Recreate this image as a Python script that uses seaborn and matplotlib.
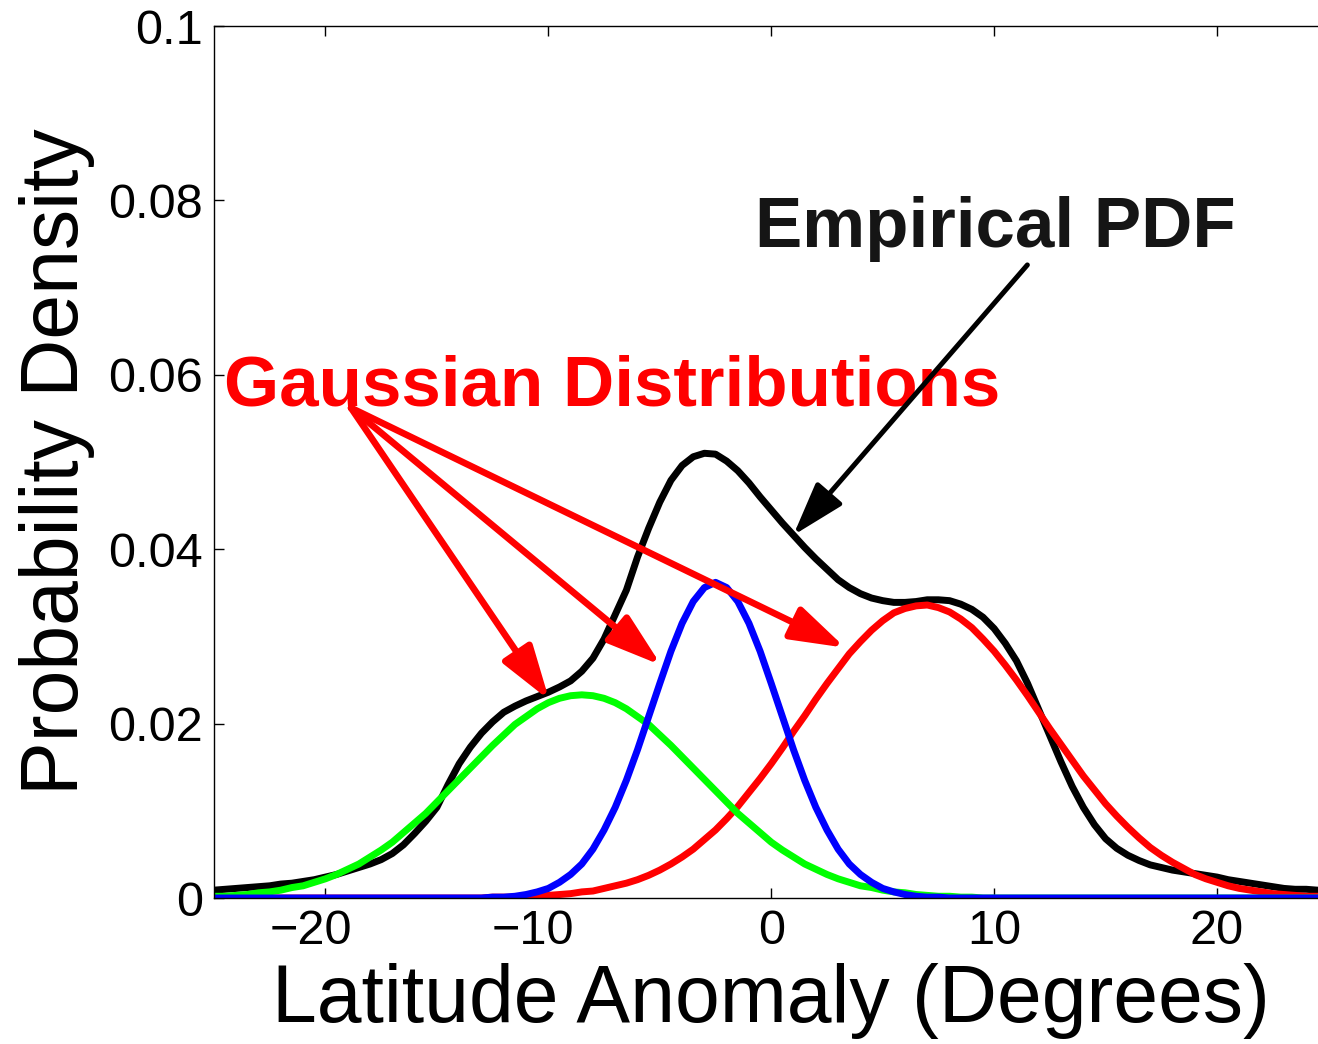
import numpy as np
import matplotlib
matplotlib.use("Agg")
import matplotlib.pyplot as plt
import matplotlib.transforms as mtransforms
import seaborn as sns

# latitude grid (degrees), half-degree steps
lat = list(np.arange(-25, 25.5, 0.5))

# empirical pdf
pdf_empirical = [
    0.0009, 0.0010, 0.0011, 0.0012, 0.0013, 0.0014, 0.0016, 0.0017, 0.0019, 0.0021,
    0.0024, 0.0027, 0.0031, 0.0035, 0.0039, 0.0044,
    0.0051, 0.0061, 0.0074, 0.0088, 0.0104, 0.0130, 0.0154, 0.0173, 0.0189, 0.0202,
    0.0213, 0.0220, 0.0226, 0.0231, 0.0236, 0.0242, 0.0249, 0.0260, 0.0275, 0.0297,
    0.0325, 0.0353, 0.0391, 0.0424, 0.0454, 0.0479, 0.0496, 0.0506, 0.0510, 0.0509,
    0.0501, 0.0490, 0.0476, 0.0460, 0.0445, 0.0430, 0.0416, 0.0402, 0.0389, 0.0377,
    0.0365, 0.0356, 0.0349, 0.0344, 0.0341, 0.0339, 0.0339, 0.0340, 0.0342, 0.0342,
    0.0341, 0.0337, 0.0331, 0.0322, 0.0309, 0.0292, 0.0272, 0.0246, 0.0216, 0.0186,
    0.0156, 0.0128, 0.0104, 0.0084, 0.0068, 0.0057, 0.0049,
    0.0043, 0.0038, 0.0035, 0.0032, 0.0030, 0.0028, 0.0026, 0.0024, 0.0021, 0.0019,
    0.0017, 0.0015, 0.0013, 0.0011, 0.0010, 0.0010, 0.0009, 0.0009,
]

# gaussian components
pdf_green = [
    0.0002, 0.0002, 0.0003, 0.0004, 0.0006, 0.0007, 0.0009, 0.0012, 0.0014, 0.0018,
    0.0022, 0.0027, 0.0033, 0.0039, 0.0047, 0.0055, 0.0064, 0.0075, 0.0086, 0.0097,
    0.0110, 0.0123, 0.0136, 0.0149, 0.0162, 0.0175, 0.0187, 0.0199, 0.0208, 0.0217,
    0.0224, 0.0229, 0.0232, 0.0233, 0.0232, 0.0229, 0.0224, 0.0217, 0.0208, 0.0199,
    0.0187, 0.0175, 0.0162, 0.0149, 0.0136, 0.0123, 0.0110, 0.0097, 0.0086, 0.0075,
    0.0064, 0.0055, 0.0047, 0.0039, 0.0033, 0.0027, 0.0022, 0.0018, 0.0014, 0.0012,
    0.0009, 0.0007, 0.0006, 0.0004, 0.0003, 0.0002, 0.0002, 0.0001, 0.0001,
] + [0.0] * 32

pdf_blue = [0.0] * 25 + [
    0.0001, 0.0001, 0.0002, 0.0004, 0.0007, 0.0011, 0.0018, 0.0027, 0.0039, 0.0056,
    0.0078, 0.0104, 0.0135, 0.0170, 0.0208, 0.0246, 0.0283, 0.0315, 0.0340, 0.0356,
    0.0362, 0.0356, 0.0340, 0.0315, 0.0283, 0.0246, 0.0208, 0.0170, 0.0135, 0.0104,
    0.0078, 0.0056, 0.0039, 0.0027, 0.0018, 0.0011, 0.0007, 0.0004, 0.0002, 0.0001,
    0.0001,
] + [0.0] * 35

pdf_red = [0.0] * 25 + [
    0.0001, 0.0001, 0.0001, 0.0002, 0.0002, 0.0003, 0.0004, 0.0005, 0.0007, 0.0008,
    0.0011, 0.0014, 0.0017, 0.0021, 0.0026, 0.0032, 0.0039, 0.0047, 0.0056, 0.0067,
    0.0078, 0.0091, 0.0105, 0.0121, 0.0137, 0.0154, 0.0172, 0.0191, 0.0209, 0.0228,
    0.0246, 0.0263, 0.0280, 0.0294, 0.0307, 0.0318, 0.0327, 0.0332, 0.0335, 0.0336,
    0.0333, 0.0328, 0.0320, 0.0310, 0.0297, 0.0283, 0.0267, 0.0250, 0.0232, 0.0213,
    0.0194, 0.0176, 0.0158, 0.0140, 0.0124, 0.0108, 0.0094, 0.0081, 0.0069, 0.0058,
    0.0049, 0.0041, 0.0034, 0.0027, 0.0022, 0.0018, 0.0014, 0.0011, 0.0009, 0.0007,
    0.0005, 0.0004, 0.0003, 0.0002, 0.0002, 0.0001,
]

x_ticks = [-20, -10, 0, 10, 20]
y_ticks = [0, 0.02, 0.04, 0.06, 0.08, 0.1]
y_tick_labels = ['0', '0.02', '0.04', '0.06', '0.08', '0.1']

# annotation anchors (data coords)
gauss_start = (-18.85, 0.0562)
gauss_tips = [(-9.96, 0.0227), (-4.94, 0.0267), (3.32, 0.0287)]
emp_start = (11.49, 0.0726)
emp_tip = (0.99, 0.0416)

sns.set_style("ticks")
plt.rcParams['font.family'] = ['Liberation Sans', 'DejaVu Sans']
plt.rcParams['text.color'] = 'black'
plt.rcParams['axes.labelcolor'] = 'black'

fig = plt.figure(figsize=(13.18, 10.44), dpi=100)
ax = fig.add_axes([214 / 1318, 146 / 1044, 1114.5 / 1318, 872 / 1044])

lw = 5
line_kw = dict(lw=lw, solid_joinstyle='round', ax=ax)
sns.lineplot(x=lat, y=pdf_empirical, color='black', **line_kw)
sns.lineplot(x=lat, y=pdf_red, color='#ff0000', **line_kw)
sns.lineplot(x=lat, y=pdf_green, color='#00ff00', **line_kw)
sns.lineplot(x=lat, y=pdf_blue, color='#0000ff', **line_kw)

ax.set_xlim(-25, 25)
ax.set_ylim(0, 0.1)
ax.set_xticks(x_ticks)
ax.set_xticklabels([str(t).replace('-', '\u2212') for t in x_ticks])
ax.set_yticks(y_ticks)
ax.set_yticklabels(y_tick_labels)
ax.tick_params(direction='in', length=7, width=1, top=True, right=True,
               labelsize=35, colors='black', pad=8)
for s in ax.spines.values():
    s.set_visible(True)
    s.set_linewidth(1)
    s.set_color('black')

# matlab-ish placement of negative labels
shift = mtransforms.ScaledTranslation(-15 / 100, 0, fig.dpi_scale_trans)
for lbl in ax.get_xticklabels():
    if lbl.get_text().startswith('\u2212'):
        lbl.set_transform(lbl.get_transform() + shift)

ax.set_xlabel('Latitude Anomaly (Degrees)', fontsize=58, color='black')
ax.set_ylabel('Probability Density', fontsize=58, color='black')
ax.xaxis.set_label_coords(0.5, -0.074)
ax.yaxis.set_label_coords(-0.107, 0.5)

ax.text(-0.72, 0.0747, 'Empirical PDF', fontsize=51, fontweight='bold',
        color='#151515', ha='left', va='baseline')
ax.text(-24.55, 0.0565, 'Gaussian Distributions', fontsize=51, fontweight='bold',
        color='#ff0000', ha='left', va='baseline')

head = '-|>,head_length=33,head_width=10.5'
for tip in gauss_tips:
    ax.annotate('', xy=tip, xytext=gauss_start,
                arrowprops=dict(arrowstyle=head, mutation_scale=1, lw=4.8,
                                color='#ff0000', shrinkA=0, shrinkB=0))
ax.annotate('', xy=emp_tip, xytext=emp_start,
            arrowprops=dict(arrowstyle=head, mutation_scale=1, lw=3.6,
                            color='black', shrinkA=0, shrinkB=0))

fig.savefig('out.png', dpi=100)
